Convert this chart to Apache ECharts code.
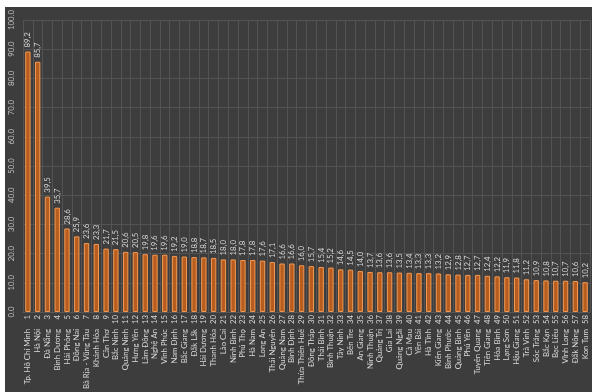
<!DOCTYPE html>
<html>
<head>
<meta charset="utf-8">
<script src="https://cdn.jsdelivr.net/npm/echarts@6/dist/echarts.min.js"></script>
<style>
  html, body { margin: 0; padding: 0; background: #ffffff; width: 592px; height: 392px; overflow: hidden; }
  #chart { position: absolute; left: 5px; top: 7px; width: 587px; height: 385px; }
</style>
</head>
<body>
<div id="chart"></div>
<script>
// Provinces in rank order
const provinces = [
  'Tp. Hồ Chí Minh', 'Hà Nội', 'Đà Nẵng', 'Bình Dương', 'Hải Phòng', 'Đồng Nai',
  'Bà Rịa - Vũng Tàu', 'Khánh Hòa', 'Cần Thơ', 'Bắc Ninh', 'Quảng Ninh', 'Hưng Yên',
  'Lâm Đồng', 'Nghệ An', 'Vĩnh Phúc', 'Nam Định', 'Bắc Giang', 'Đắk Lắk',
  'Hải Dương', 'Thanh Hóa', 'Lào Cai', 'Ninh Bình', 'Phú Thọ', 'Hà Nam',
  'Long An', 'Thái Nguyên', 'Quảng Nam', 'Bình Định', 'Thừa Thiên Huế', 'Đồng Tháp',
  'Thái Bình', 'Bình Thuận', 'Tây Ninh', 'Bến Tre', 'An Giang', 'Ninh Thuận',
  'Quảng Trị', 'Gia Lai', 'Quảng Ngãi', 'Cà Mau', 'Yên Bái', 'Hà Tĩnh',
  'Kiên Giang', 'Bình Phước', 'Quảng Bình', 'Phú Yên', 'Tuyên Quang', 'Tiền Giang',
  'Hòa Bình', 'Lạng Sơn', 'Hậu Giang', 'Trà Vinh', 'Sóc Trăng', 'Bắc Kạn',
  'Bạc Liêu', 'Vĩnh Long', 'Đắk Nông', 'Kon Tum'
];

const values = [
  89.2, 85.7, 39.5, 35.7, 28.6, 25.9,
  23.6, 23.3, 21.7, 21.5, 20.6, 20.5,
  19.8, 19.6, 19.6, 19.2, 19.0, 18.8,
  18.7, 18.5, 18.0, 18.0, 17.8, 17.8,
  17.6, 17.1, 16.6, 16.6, 16.0, 15.7,
  15.4, 15.2, 14.6, 14.5, 14.0, 13.7,
  13.6, 13.6, 13.5, 13.4, 13.3, 13.3,
  13.2, 12.9, 12.8, 12.7, 12.7, 12.4,
  12.2, 11.9, 11.8, 11.2, 10.9, 10.8,
  10.7, 10.7, 10.6, 10.2
];

const yTicks = { min: 0, max: 100, interval: 10 };

const FONT = 'Lato';
const chart = echarts.init(document.getElementById('chart'));

chart.setOption({
  backgroundColor: '#3d3d3d',
  animation: false,
  grid: { left: 18, right: 2, top: 6, bottom: 79 },
  xAxis: {
    type: 'category',
    data: provinces,
    axisLine: { show: true, lineStyle: { color: '#575757' } },
    axisTick: { show: false },
    splitLine: { show: true, lineStyle: { color: '#535353', width: 1 } },
    axisLabel: {
      interval: 0,
      rotate: 90,
      margin: 3,
      color: '#d9d9d9',
      fontFamily: FONT,
      fontSize: 7.8,
      formatter: function (name, idx) {
        return '{n|' + name + '}{r|' + (idx + 1) + '}';
      },
      rich: {
        n: { color: '#d9d9d9', fontFamily: FONT, fontSize: 7.8 },
        r: { color: '#d9d9d9', fontFamily: FONT, fontSize: 7.8, width: 14, align: 'right' }
      }
    }
  },
  yAxis: {
    type: 'value',
    min: yTicks.min,
    max: yTicks.max,
    interval: yTicks.interval,
    axisLine: { show: false },
    axisTick: { show: false },
    splitLine: { show: true, lineStyle: { color: '#535353', width: 1 } },
    axisLabel: {
      rotate: 90,
      margin: 8,
      color: '#c2c2c2',
      fontFamily: FONT,
      fontSize: 7.8,
      formatter: v => v.toFixed(1)
    }
  },
  series: [{
    type: 'bar',
    data: values,
    barWidth: '55%',
    itemStyle: {
      color: '#b95d1e',
      borderColor: '#f29a55',
      borderWidth: 1
    },
    label: {
      show: true,
      position: 'top',
      rotate: 90,
      align: 'left',
      verticalAlign: 'middle',
      distance: 4,
      color: '#d9d9d9',
      fontFamily: FONT,
      fontSize: 7.8,
      formatter: p => p.value.toFixed(1).replace('.', ',')
    }
  }]
});
</script>
</body>
</html>
